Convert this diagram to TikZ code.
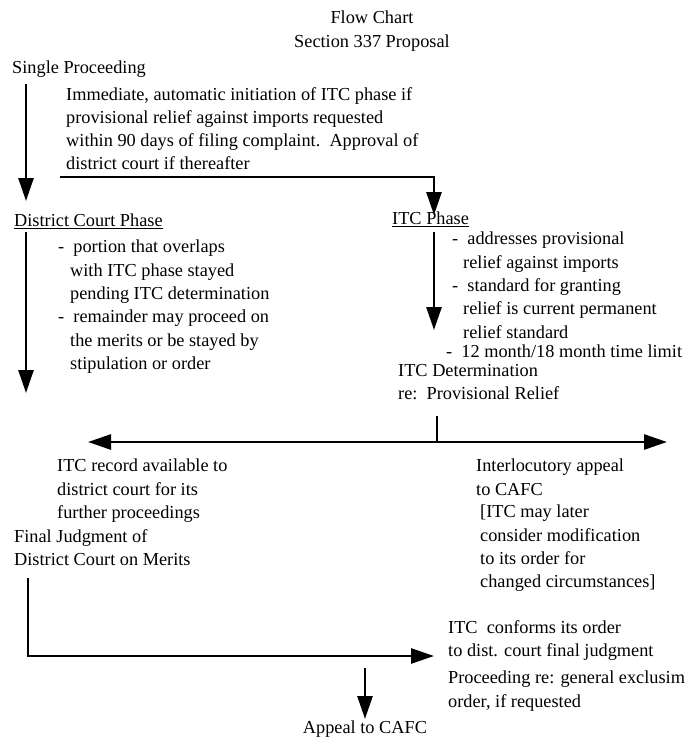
\documentclass[tikz,border=0pt]{standalone}
\usepackage{fontspec}
\setmainfont{Liberation Serif}
\usetikzlibrary{arrows.meta}
\tikzset{
  txt/.style={anchor=north west, inner sep=0pt, align=left, font=\fontsize{18.3}{23.3}\selectfont},
  ctxt/.style={anchor=north, inner sep=0pt, align=center, font=\fontsize{18.3}{23.3}\selectfont},
  flow/.style={line width=2.7pt, -{Triangle[width=15pt,length=23pt]}},
  plain/.style={line width=2.7pt},
  both/.style={line width=2.7pt, {Triangle[width=15pt,length=23pt]}-{Triangle[width=15pt,length=23pt]}}
}
\begin{document}
\begin{tikzpicture}[x=1pt,y=-1pt]
\useasboundingbox (0,0) rectangle (699,740);
\node[ctxt] (title) at (372,11) {Flow Chart\\Section 337 Proposal};
\node[txt] (single) at (12,61) {Single Proceeding};
\node[txt] (para) at (66,87) {Immediate, automatic initiation of ITC phase if\\provisional relief against imports requested\\within 90 days of filing complaint.\ \ Approval of\\district court if thereafter};
\node[txt] (dcp) at (14,214) {\underline{District Court Phase}};
\node[txt] (itcp) at (392,212) {\underline{ITC Phase}};
\node[txt] (dcpb) at (58,240) {-\ \ portion that overlaps\\\hspace*{12pt}with ITC phase stayed\\\hspace*{12pt}pending ITC determination\\-\ \ remainder may proceed on\\\hspace*{12pt}the merits or be stayed by\\\hspace*{12pt}stipulation or order};
\node[txt] (itcb) at (452,232) {-\ \ addresses provisional\\\hspace*{11pt}relief against imports\\-\ \ standard for granting\\\hspace*{11pt}relief is current permanent\\\hspace*{11pt}relief standard};
\node[txt] (limit) at (446,345) {-\ \ 12 month/18 month time limit};
\node[txt] (det) at (398,364) {ITC Determination\\re:\ \ Provisional Relief};
\node[txt] (record) at (57,459) {ITC record available to\\district court for its\\further proceedings};
\node[txt] (inter) at (476,459) {Interlocutory appeal\\to CAFC};
\node[txt] (may) at (480,505) {[ITC may later\\consider modification\\to its order for\\changed circumstances]};
\node[txt] (final) at (14,529) {Final Judgment of\\District Court on Merits};
\node[txt] (conf) at (448,620) {ITC\ \ conforms its order\\to dist. court final judgment};
\node[txt] (gen) at (448,671) {Proceeding re: general exclusim\\order, if requested};
\node[ctxt] (appeal) at (365,721) {Appeal to CAFC};

\coordinate (a1s) at (26,84);
\coordinate (a1e) at (26,201);
\coordinate (h1s) at (60,177);
\coordinate (h1c) at (434,177);
\coordinate (h1e) at (434,215);
\coordinate (a2s) at (26,232);
\coordinate (a2e) at (26,393);
\coordinate (a3s) at (434,232);
\coordinate (a3e) at (434,330);
\coordinate (ts) at (437,416);
\coordinate (te) at (437,442);
\coordinate (dl) at (88,442);
\coordinate (dr) at (667,442);
\coordinate (fs) at (28,578);
\coordinate (fc) at (28,656);
\coordinate (fe) at (434,656);
\coordinate (as) at (365,668);
\coordinate (ae) at (365,719);

\draw[flow] (a1s) -- (a1e);
\draw[flow] (h1s) -- (h1c) -- (h1e);
\draw[flow] (a2s) -- (a2e);
\draw[flow] (a3s) -- (a3e);
\draw[plain] (ts) -- (te);
\draw[both] (dl) -- (dr);
\draw[flow] (fs) -- (fc) -- (fe);
\draw[flow] (as) -- (ae);
\end{tikzpicture}
\end{document}
